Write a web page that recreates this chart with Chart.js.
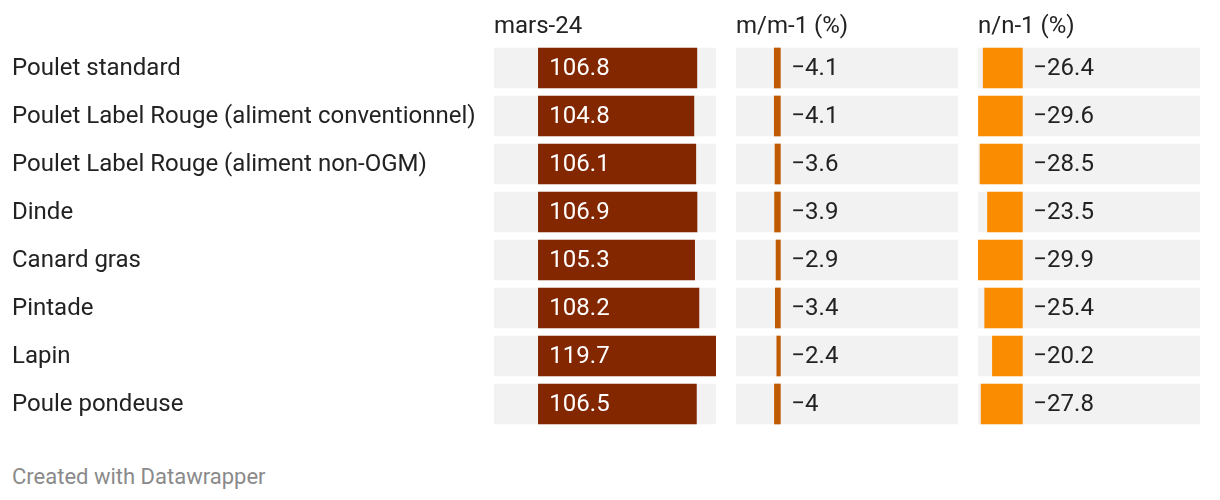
<!DOCTYPE html>
<html>
<head>
<meta charset="utf-8">
<script src="https://cdn.jsdelivr.net/npm/chart.js@4"></script>
<style>
  body { margin: 0; background: #fff; font-family: Roboto, sans-serif; }
  #page { position: relative; width: 1220px; height: 500px; }
  canvas { position: absolute; top: 0; }
  .entete { position: absolute; top: 9px; font-size: 24px; line-height: 32px; color: #222; }
  #credit { position: absolute; left: 12px; top: 463px; font-size: 22px; line-height: 28px; color: #8a8a8a; }
</style>
</head>
<body>
<div id="page">
  <canvas id="col1" width="716" height="448" style="left:0"></canvas>
  <canvas id="col2" width="222" height="448" style="left:736px"></canvas>
  <canvas id="col3" width="222" height="448" style="left:978px"></canvas>
  <div class="entete" style="left:494px">mars-24</div>
  <div class="entete" style="left:736px">m/m-1 (%)</div>
  <div class="entete" style="left:978px">n/n-1 (%)</div>
  <div id="credit">Created with Datawrapper</div>
</div>
<script>
const categories = [
  'Poulet standard',
  'Poulet Label Rouge (aliment conventionnel)',
  'Poulet Label Rouge (aliment non-OGM)',
  'Dinde',
  'Canard gras',
  'Pintade',
  'Lapin',
  'Poule pondeuse',
];
const mars24 = [106.8, 104.8, 106.1, 106.9, 105.3, 108.2, 119.7, 106.5];
const mm1 = [-4.1, -4.1, -3.6, -3.9, -2.9, -3.4, -2.4, -4];
const nn1 = [-26.4, -29.6, -28.5, -23.5, -29.9, -25.4, -20.2, -27.8];

// same domain for the three columns
const tous = mars24.concat(mm1, nn1);
const minX = Math.min(...tous);
const maxX = Math.max(...tous);

function formatValeur(v) {
  return String(v).replace('-', '\u2212');
}

const etiquettes = {
  id: 'etiquettes',
  afterDatasetsDraw(chart, args, opts) {
    let ctx = chart.ctx;
    let x0 = chart.scales.x.getPixelForValue(0);
    let meta = chart.getDatasetMeta(0);
    ctx.save();
    ctx.font = '24px Roboto';
    ctx.fillStyle = opts.couleur;
    ctx.textAlign = 'left';
    ctx.textBaseline = 'middle';
    meta.data.forEach((bar, i) => {
      ctx.fillText(formatValeur(chart.data.datasets[0].data[i]), x0 + 11, bar.y + 1);
    });
    ctx.restore();
  },
};

function criarColonne(id, valeurs, couleur, couleurTexte, avecLabels) {
  const canvas = document.getElementById(id);
  let contexto = canvas.getContext('2d');
  new Chart(contexto, {
    type: 'bar',
    data: {
      labels: categories,
      datasets: [
        {
          data: valeurs,
          backgroundColor: couleur,
          barThickness: 40,
          grouped: false,
        },
        {
          data: valeurs.map(() => [minX, maxX]),
          backgroundColor: '#f2f2f2',
          barThickness: 40,
          grouped: false,
        },
      ],
    },
    options: {
      indexAxis: 'y',
      responsive: false,
      animation: false,
      // chart area: y 44 -> 428, 48px per row
      layout: { padding: { top: 44, bottom: 20, left: avecLabels ? 12 : 0, right: 0 } },
      plugins: {
        legend: { display: false },
        tooltip: { enabled: false },
        etiquettes: { couleur: couleurTexte },
      },
      scales: {
        x: { display: false, min: minX, max: maxX },
        y: {
          display: avecLabels,
          grid: { display: false },
          border: { display: false },
          ticks: {
            crossAlign: 'far',
            padding: 0,
            labelOffset: 1,
            font: { family: 'Roboto', size: 24 },
            color: '#222',
          },
          afterFit: (scale) => { if (avecLabels) scale.width = 482; },
        },
      },
    },
    plugins: [etiquettes],
  });
}

document.addEventListener('DOMContentLoaded', () => {
  criarColonne('col1', mars24, '#832700', '#fff', true);
  criarColonne('col2', mm1, '#c05a00', '#222', false);
  criarColonne('col3', nn1, '#f98c00', '#222', false);
});
</script>
</body>
</html>
